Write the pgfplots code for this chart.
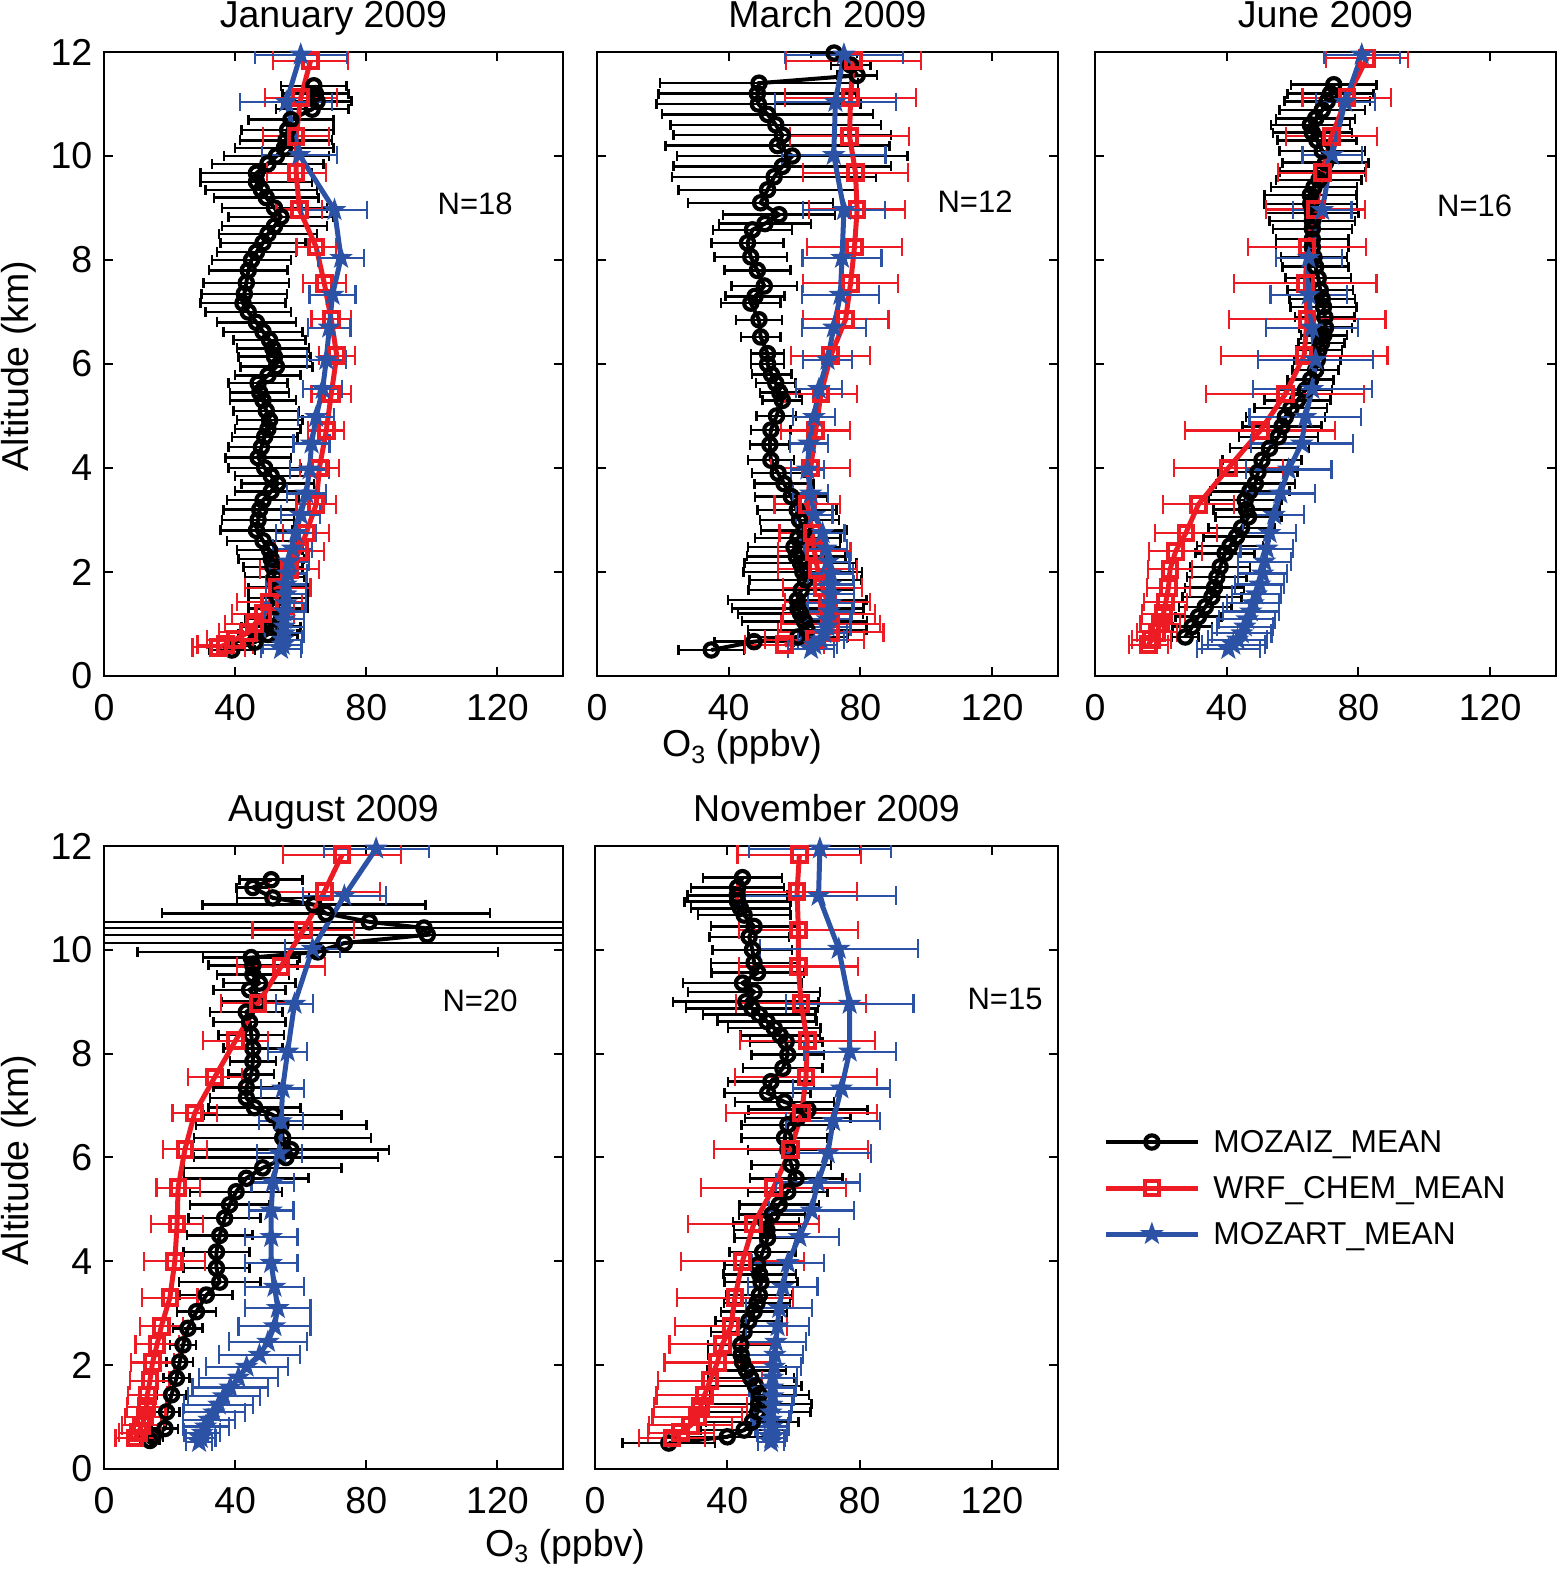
\documentclass[border=0pt]{standalone}
\usepackage{fontspec}
\setmainfont{Liberation Sans}
\usepackage{pgfplots}
\pgfplotsset{compat=1.18}
\usepackage{pgfplotstable}
\definecolor{mred}{RGB}{237,28,36}
\definecolor{mblue}{RGB}{44,82,165}
\pgfdeclareplotmark{pstar}{%
  \pgfpathmoveto{\pgfpointpolar{90}{\pgfplotmarksize}}%
  \pgfpathlineto{\pgfpointpolar{126}{0.4*\pgfplotmarksize}}%
  \pgfpathlineto{\pgfpointpolar{162}{\pgfplotmarksize}}%
  \pgfpathlineto{\pgfpointpolar{198}{0.4*\pgfplotmarksize}}%
  \pgfpathlineto{\pgfpointpolar{234}{\pgfplotmarksize}}%
  \pgfpathlineto{\pgfpointpolar{270}{0.4*\pgfplotmarksize}}%
  \pgfpathlineto{\pgfpointpolar{306}{\pgfplotmarksize}}%
  \pgfpathlineto{\pgfpointpolar{342}{0.4*\pgfplotmarksize}}%
  \pgfpathlineto{\pgfpointpolar{18}{\pgfplotmarksize}}%
  \pgfpathlineto{\pgfpointpolar{54}{0.4*\pgfplotmarksize}}%
  \pgfpathclose
  \pgfusepathqfillstroke
}
\newcommand{\fs}{\fontsize{11.25}{13}\selectfont}
\newcommand{\fn}{\fontsize{9.3}{11}\selectfont}
\newcommand{\fl}{\fontsize{9.5}{11}\selectfont}

% ---------------- January ----------------
\pgfplotstableread{
y x e
11.35 64 10
11.2 64.5 10
11.05 65 10.5
10.9 63.5 11
10.7 57 13
10.5 56 14
10.3 55.5 14
10.15 55 15
10.0 52.6 16
9.85 50 17
9.67 46.5 17
9.5 46.5 17
9.35 48 17
9.2 49.5 16
9.0 52 16
8.83 54 16
8.65 52 16
8.5 50 15
8.33 48.5 13
8.15 46.5 12
8.0 45 12
7.8 44 12
7.56 43.4 13
7.35 42.8 13
7.17 42.4 13
7.0 44 13
6.8 46.5 12
6.62 48.5 12
6.46 50.5 11
6.3 51.5 11
6.14 52 11
5.95 52.6 11
5.78 50 10
5.63 47 9
5.45 47.5 9
5.3 48.5 10
5.1 49.5 10
4.92 50.5 10
4.75 50 10
4.6 49 10
4.4 48 10
4.2 47 10
4.0 49 11
3.85 51 11
3.7 53 11
3.55 51 11
3.38 48.5 11
3.2 47.5 11
3.0 47 11
2.8 46.5 11
2.6 48.5 11
2.42 50.5 10
2.25 51 10
2.1 51.5 9
1.9 52 9
1.7 53 9
1.5 53 9
1.3 53 9
1.1 52 9
0.95 51 9
0.8 50 9
0.65 46 8
0.5 39 7
}\janobs
\pgfplotstableread{
y x e
11.83 63 11.5
11.12 60 11
10.38 58.6 10
9.68 58.6 9
8.97 59.6 7
8.25 64.7 6
7.55 67.2 6.5
6.86 69.3 6
6.16 71 5.5
5.42 69.3 6
4.72 67.8 5.5
4.0 65.7 6
3.3 64.7 6
2.75 61.7 7
2.4 59.6 7.5
2.05 56.6 9
1.7 53 10
1.42 50.5 10
1.2 48.5 9.5
1.0 46 9
0.84 44 9
0.7 40 8.5
0.6 37 8.5
0.55 35 8
}\janwrf
\pgfplotstableread{
y x e
11.95 60 14
11.04 55.6 14
10.02 59.6 11.5
8.96 70.3 10
8.04 72.3 7
7.33 69.7 7
6.7 68.7 6.5
6.08 67.8 6
5.52 66.7 6
4.98 64.7 5.5
4.47 63.3 5.5
3.97 62.7 6
3.51 61.7 6
3.1 60 6
2.75 58.5 6
2.45 57.5 6
2.2 56.5 6
1.97 56 6
1.76 55.5 6
1.57 55.5 6
1.4 55.5 6
1.24 55 6
1.09 55 6
0.95 55 6
0.82 55 6
0.7 54.5 6
0.6 54.5 6
0.52 54 6
}\janmoz

% ---------------- March ----------------
\pgfplotstableread{
y x e
11.98 72 7
11.75 77 6
11.55 79 6
11.4 49.2 30
11.2 48.7 30
11.0 49 31
10.8 51.8 32
10.6 54.3 32
10.4 56.3 33
10.2 54.8 34
10.0 59.3 35
9.8 56.3 33
9.6 53.8 31
9.35 51.8 27
9.1 49.7 22
8.87 55.3 17
8.7 51 14
8.58 47.2 12
8.33 45.7 11
8.06 46.7 11
7.8 48.7 10
7.5 50.8 10
7.3 48 9
7.17 46.7 9
6.85 49.2 7
6.52 49.7 6
6.2 51.8 5
6.0 51.8 5
5.8 53 6
5.63 54.3 6
5.45 55.5 6
5.3 56.3 6
5.0 54.5 6
4.73 52.8 6
4.45 52.5 6
4.15 52.8 7
3.9 55 8
3.7 56.8 9
3.45 59 11
3.19 60.8 12
3.0 61.5 12
2.8 62.8 13
2.65 61 13
2.48 59.8 14
2.3 60.5 15
2.17 61.8 17
2.0 62.5 18
1.85 63.3 17
1.65 62 16
1.46 60.8 21
1.3 61 20
1.2 61.8 19
1.05 63 19
0.88 63.8 18
0.75 61 15
0.66 47.7 12
0.5 34.7 10
}\marobs
\pgfplotstableread{
y x e
11.83 77.8 20.5
11.12 77 20
10.38 76.7 18
9.68 78.5 16
8.97 79 14.5
8.25 78.2 14.5
7.55 77 14.5
6.86 75.5 13
6.16 71 12
5.42 68 11
4.72 66.4 10.5
4.0 64.9 12
3.3 63.9 10
2.75 65.4 10
2.4 66 11
2.05 67 12
1.7 68.5 12
1.42 70 13
1.2 70.5 14
1.0 71 15
0.84 71 16
0.7 66 15
0.6 57 12
}\marwrf
\pgfplotstableread{
y x e
11.95 75 18
11.04 72.4 18.3
10.02 71.9 15.7
8.96 75 12.5
8.04 74.4 12
7.33 73.9 11.7
6.7 71.9 9.7
6.08 70 7.5
5.52 67.4 7
4.98 65.9 6.5
4.47 64.4 5.8
3.97 63.9 5
3.51 64.9 5.3
3.1 66 5.5
2.75 68.5 6.5
2.45 69.5 6.5
2.2 70.2 6.5
1.97 71 6.8
1.76 71 7
1.57 71 7
1.4 71 7
1.24 70.5 7
1.09 70 7
0.95 70 7
0.82 69 7
0.7 68 7
0.6 66 7
0.52 65 7
}\marmoz

% ---------------- June ----------------
\pgfplotstableread{
y x e
11.37 72.5 13
11.2 71.5 13
11.05 70.5 13
10.88 69 13
10.72 67 12
10.6 65.4 12
10.45 66 12
10.3 67.4 12
10.1 69 13
9.87 70 13
9.7 69 13
9.54 68 13
9.4 66.5 13
9.25 65.4 14
9.08 65.5 14
8.9 66 14
8.75 66 13
8.6 66 12
8.4 66 11
8.25 66 11
8.05 66.5 10
7.87 67 10
7.65 67.8 10
7.42 68.4 10
7.25 69 10
7.1 69.4 10
6.9 69.8 9
6.7 70 8
6.55 69.5 7
6.4 68.8 7
6.27 68 7
6.08 67.5 7
5.88 67 7
5.7 65.5 7
5.5 63.9 8
5.3 61.5 10
5.15 59.5 11
4.98 57.8 12
4.8 56.8 12
4.6 55.7 12
4.38 53 12
4.15 50.7 12
3.92 49.5 12
3.7 48.7 12
3.55 47 12
3.38 45.6 11
3.2 46 10
3.06 46.6 10
2.85 44.5 10
2.68 43 10
2.5 41 10
2.36 39.5 9
2.1 38 9
1.9 37 9
1.7 36.3 9
1.52 35.5 9
1.33 33.5 8
1.14 31.4 7
0.95 29.5 6
0.75 27.4 4
}\junobs
\pgfplotstableread{
y x e
11.88 82.6 12.5
11.12 76.5 13.5
10.38 71.8 13.8
9.68 69 13.4
8.97 67 15
8.25 64.4 18
7.55 63.9 21.6
6.86 64.4 23.8
6.16 63.5 25.3
5.42 57.8 24
4.72 50.2 22.8
4.0 40.5 16.5
3.3 31.4 10.8
2.75 27.6 9.5
2.4 24.5 8
2.05 22.8 6.7
1.7 22.3 6.5
1.42 21.5 6.5
1.2 20.8 6.5
1.0 19.8 6
0.84 18.8 6
0.7 17.2 6
0.6 16.2 6
}\junwrf
\pgfplotstableread{
y x e
11.95 81 11.5
11.04 76 9
10.02 72 9
8.96 69 8.9
8.04 64.9 10
7.33 64.9 11.6
6.7 65.9 14
6.08 67 17.4
5.52 66 18
4.98 63.9 17
4.47 62.8 15.5
3.97 58.8 13
3.51 56.3 10.5
3.1 54.4 9
2.75 53 8
2.45 52.2 8
2.2 51.5 8
1.97 50.9 7.5
1.76 50 7.5
1.57 49 7.5
1.4 48 8
1.24 47.3 8.5
1.09 46.2 8.5
0.95 45.5 8.5
0.82 44.6 9
0.7 43.3 9
0.6 42 9.5
0.52 40.5 9.5
}\junmoz

% ---------------- August ----------------
\pgfplotstableread{
y x e
11.35 51 9.6
11.2 45.4 5
11.0 51.5 11
10.87 64 34
10.7 67.7 50
10.54 80.9 200
10.42 97.6 200
10.29 98.6 200
10.13 73.3 200
9.96 65.2 55
9.85 44.9 14.7
9.7 45.4 13.6
9.52 45.4 11
9.36 47.4 11
9.23 44.4 11
9.0 47 11
8.8 43.4 11
8.61 44.4 11
8.36 44.9 10
8.1 45.4 9
7.85 45.4 7
7.6 44.9 7
7.35 43.4 10
7.15 43.4 11
6.96 45.9 14
6.82 51.5 21
6.63 54 26
6.38 54.5 27
6.15 57 30
6.0 55.5 28
5.8 48.4 24
5.6 43.4 19
5.34 40.3 14
5.09 38.3 12
4.83 36.8 11
4.5 35.3 10
4.18 34.3 10
3.87 34.3 10
3.6 35.3 12.5
3.35 31.2 8
3.03 28.2 6
2.71 25.6 4.5
2.39 24.1 4
2.06 23.1 4
1.75 22.1 4
1.43 20.6 4.5
1.1 19.1 4
0.78 18.6 4
0.62 15 3
0.55 14 3
}\augobs
\pgfplotstableread{
y x e
11.83 72.6 18
11.12 67.2 17
10.38 60.8 15.5
9.68 54 13.4
8.97 47 11.3
8.25 40.1 10
7.55 33.8 8.3
6.86 27.7 6.8
6.16 24.7 6.6
5.42 22.6 6.6
4.72 22.3 7.9
4.0 21.6 9.3
3.3 20.1 8.4
2.75 17.5 6.6
2.4 16.2 6.6
2.05 14.8 6.5
1.7 14 6
1.42 13.2 6
1.2 13 6
1.0 12.5 6
0.84 11.5 6
0.7 10.5 6
0.6 9.5 6
}\augwrf
\pgfplotstableread{
y x e
11.95 83 16
11.04 73.3 12.7
10.02 63.6 8.5
8.96 58.1 5.7
8.04 56 6
7.33 54.5 6.6
6.7 54 6.8
6.08 53.5 6.8
5.52 51.5 6.5
4.98 51 6.8
4.47 51 8
3.97 51 8
3.51 52 9
3.1 53 10
2.75 52 11
2.45 50 12
2.2 47.4 12.4
1.97 43.5 12.5
1.76 41 12
1.57 38.5 11.5
1.4 36.5 11
1.24 35 10.5
1.09 33.5 9.5
0.95 32 8
0.82 31 7
0.7 30 5.5
0.6 29.5 4.5
0.52 29 4
}\augmoz

% ---------------- November ----------------
\pgfplotstableread{
y x e
11.39 44.6 12
11.2 43.1 14
11.05 43 15
10.93 43.1 16
10.8 44 15
10.67 45.1 14
10.45 48.1 13
10.25 46.6 12
10.0 47.6 12
9.75 48.1 13
9.56 49.2 14
9.36 44.6 18
9.19 48.1 20
9.0 45.6 22
8.87 47.5 20
8.75 49.7 17
8.62 52 15
8.49 54.2 14
8.35 56 12
8.23 57.8 11
7.98 58.3 11
7.72 56.8 12
7.46 53.2 13
7.24 52.2 13
7.07 57.3 15
6.92 64.4 18
6.76 61.3 16
6.63 58.3 14
6.38 57.3 13
6.15 58.3 12
5.86 59.3 12
5.6 60.8 14
5.34 58.3 12
5.09 55.7 12
4.9 53.5 10
4.76 51.7 10
4.6 52 10
4.45 52.2 10
4.18 50.7 10
3.93 49.2 10
3.75 49.8 11
3.6 50.2 11
3.35 49.7 10
3.2 49 10
3.03 48.1 10
2.85 46.5 10
2.64 45.1 10
2.39 44.1 10
2.2 44.2 10
2.06 44.6 10
1.9 45.8 12
1.75 47.1 13
1.6 48.5 14
1.43 49.7 15
1.25 49.5 16
1.1 49.2 16
0.91 47.6 14
0.75 45.1 13
0.62 40 12
0.5 22.3 14
}\novobs
\pgfplotstableread{
y x e
11.83 61.8 18.7
11.12 61.1 18
10.38 61.5 18
9.68 61.5 18
8.97 62.3 19.6
8.25 64.2 20.4
7.55 63.8 21.4
6.86 62.5 22.8
6.16 59.2 23.3
5.42 54 22
4.72 48 19.8
4.0 44.6 18.7
3.3 42.3 17.6
2.75 41.1 16.9
2.4 38.5 16
2.05 37 16
1.7 34.8 15.8
1.42 33.1 14.5
1.2 31.9 14
1.0 30.9 13.5
0.84 28.9 12.5
0.7 25.9 10
0.6 23.3 10
}\novwrf
\pgfplotstableread{
y x e
11.95 68 21.5
11.04 67.6 23.4
10.02 73.7 23.9
8.96 77 19.3
8.04 77 13.9
7.33 74.5 14.7
6.7 72 14.3
6.08 70.4 13
5.52 67.4 12.7
4.98 65.4 12.8
4.47 61.8 11.9
3.97 58.3 11
3.51 56.8 10.5
3.1 55.7 10
2.75 55.2 9.5
2.45 54.7 9
2.2 54.4 8.5
1.97 54.2 8
1.76 53.7 7.5
1.57 53.7 7
1.4 53.7 6.5
1.24 53.5 6
1.09 53.2 6
0.95 53.2 5.5
0.82 53.5 5
0.7 53.5 4.5
0.6 53.3 4
0.52 53.2 4
}\novmoz

\pgfplotsset{
  panel/.style={
    scale only axis, anchor=south west,
    width=138pt, height=187.2pt,
    xmin=0, xmax=140, ymin=0, ymax=12,
    xtick={0,40,80,120}, ytick={0,2,4,6,8,10,12},
    tick align=inside, major tick length=2.6pt,
    every tick/.style={black, line width=0.6pt},
    axis line style={line width=0.6pt},
    tick label style={font=\fs},
    xticklabel style={yshift=-2pt},
    /pgf/number format/assume math mode=true,
    title style={at={(0.5,1)}, anchor=base, yshift=1.4pt, inner sep=0pt, font=\fs},
    legend image code/.code={\draw[mark repeat=2,mark phase=2,##1] plot coordinates {(0pt,0pt) (13.8pt,0pt) (27.6pt,0pt)};},
  },
  mobs/.style={black, line width=1.2pt, mark=o, mark size=2.0pt,
    mark options={line width=1.25pt, solid},
    error bars/.cd, x dir=both, x explicit, error mark=|,
    error bar style={line width=0.75pt, black},
    error mark options={line width=0.75pt, mark size=1.5pt, black}},
  mwrf/.style={mred, line width=1.5pt, mark=square, mark size=2.2pt,
    mark options={line width=1.2pt, solid},
    error bars/.cd, x dir=both, x explicit, error mark=|,
    error bar style={line width=0.65pt, mred},
    error mark options={line width=0.65pt, mark size=2.8pt, mred}},
  mmoz/.style={mblue, line width=1.5pt, mark=pstar, mark size=3.1pt,
    mark options={fill=mblue, line width=0.4pt, solid},
    error bars/.cd, x dir=both, x explicit, error mark=|,
    error bar style={line width=0.65pt, mblue},
    error mark options={line width=0.65pt, mark size=2.8pt, mblue}},
}
\newcommand{\three}[3]{%
  \addplot[mobs] table[x=x,y=y,x error=e] {#1};
  \addplot[mwrf] table[x=x,y=y,x error=e] {#2};
  \addplot[mmoz] table[x=x,y=y,x error=e] {#3};
}

\begin{document}
\begin{tikzpicture}
\useasboundingbox (0,0) rectangle (468.6pt,471.6pt);

\begin{axis}[panel, at={(31.2pt,268.8pt)}, width=137.7pt, title={January 2009}]
\three{\janobs}{\janwrf}{\janmoz}
\node[font=\fn] at (axis cs:113.2,9.08) {N=18};
\end{axis}

\begin{axis}[panel, at={(179.1pt,268.8pt)}, width=138.3pt, yticklabels={}, title={March 2009}]
\three{\marobs}{\marwrf}{\marmoz}
\node[font=\fn] at (axis cs:114.8,9.13) {N=12};
\end{axis}

\begin{axis}[panel, at={(328.5pt,268.8pt)}, width=138.3pt, yticklabels={}, title={June 2009}]
\three{\junobs}{\junwrf}{\junmoz}
\node[font=\fn] at (axis cs:115.3,9.04) {N=16};
\end{axis}

\begin{axis}[panel, at={(31.2pt,30.9pt)}, width=137.7pt, height=186.9pt, title={August 2009}]
\three{\augobs}{\augwrf}{\augmoz}
\node[font=\fn] at (axis cs:114.7,9.02) {N=20};
\end{axis}

\begin{axis}[panel, at={(178.5pt,30.9pt)}, width=138.9pt, height=186.9pt, yticklabels={}, title={November 2009},
  legend style={at={(axis description cs:1.075,0.451)}, anchor=west, draw=none, fill=none, font=\fl,
    nodes={inner sep=0pt, text height=8pt, text depth=2pt}, row sep=3.8pt, column sep=3.9pt},
  legend cell align=left]
\three{\novobs}{\novwrf}{\novmoz}
\legend{MOZAIZ\_MEAN, WRF\_CHEM\_MEAN, MOZART\_MEAN}
\node[font=\fn] at (axis cs:124,9.06) {N=15};
\end{axis}

\node[font=\fs, anchor=base] at (222.6pt,244.5pt) {O\raisebox{-0.35ex}{\fontsize{7.5}{8}\selectfont 3} (ppbv)};
\node[font=\fs, anchor=base] at (169.5pt,4.8pt) {O\raisebox{-0.35ex}{\fontsize{7.5}{8}\selectfont 3} (ppbv)};
\node[font=\fs, rotate=90, anchor=base] at (8.4pt,361.8pt) {Altitude (km)};
\node[font=\fs, rotate=90, anchor=base] at (8.4pt,123.6pt) {Altitude (km)};
\end{tikzpicture}
\end{document}
